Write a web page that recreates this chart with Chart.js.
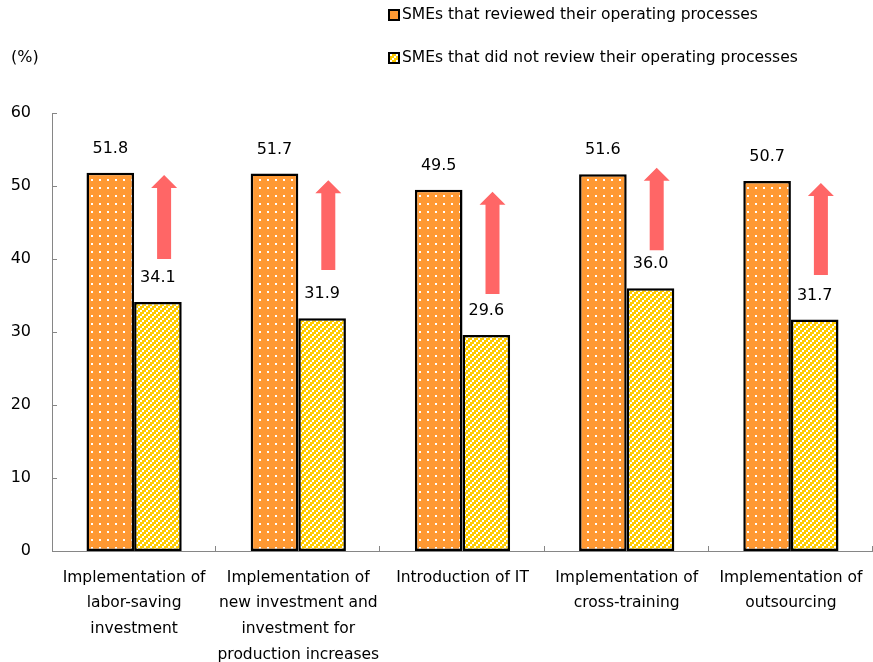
<!DOCTYPE html>
<html>
<head>
<meta charset="utf-8">
<script src="https://cdn.jsdelivr.net/npm/chart.js@4.4.1/dist/chart.umd.min.js"></script>
<style>
  html, body { margin: 0; padding: 0; background: #fff; }
  #wrap { width: 873px; height: 662px; position: relative; }
</style>
</head>
<body>
<div id="wrap"><canvas id="chart"></canvas></div>
<script>
const categories = [
  ['Implementation of', 'labor-saving', 'investment'],
  ['Implementation of', 'new investment and', 'investment for', 'production increases'],
  ['Introduction of IT'],
  ['Implementation of', 'cross-training'],
  ['Implementation of', 'outsourcing']
];
const reviewed = [51.8, 51.7, 49.5, 51.6, 50.7];
const notReviewed = [34.1, 31.9, 29.6, 36.0, 31.7];
const seriesNames = [
  'SMEs that reviewed their operating processes',
  'SMEs that did not review their operating processes'
];
// arrows between the two bars of each group (bottom / tip, in %)
const arrowFrom = [40.0, 38.5, 35.2, 41.2, 37.8];
const arrowTo = [51.5, 50.8, 49.2, 52.5, 50.4];
const yTicks = [0, 10, 20, 30, 40, 50, 60];

const FONT = '"DejaVu Sans", Verdana, sans-serif';
const ORANGE = '#FF9933';
const YELLOW = '#FFCC00';
const ARROW = '#FF6666';
const AXIS = '#868686';

function dotPattern() {
  const c = document.createElement('canvas');
  c.width = 8; c.height = 8;
  const g = c.getContext('2d');
  g.fillStyle = ORANGE;
  g.fillRect(0, 0, 8, 8);
  g.fillStyle = '#fff';
  g.fillRect(3, 3, 2, 2);
  return g.createPattern(c, 'repeat');
}

// stepped diagonal stripes, 2px blocks
function hatchPattern() {
  const c = document.createElement('canvas');
  c.width = 6; c.height = 6;
  const g = c.getContext('2d');
  for (let x = 0; x < 6; x++) {
    for (let y = 0; y < 6; y++) {
      const b = (Math.floor(x / 2) + Math.floor(y / 2)) % 3;
      g.fillStyle = b === 0 ? '#fff' : YELLOW;
      g.fillRect(x, y, 1, 1);
    }
  }
  return g.createPattern(c, 'repeat');
}

const dots = dotPattern();
const hatch = hatchPattern();

const extras = {
  id: 'extras',
  afterDatasetsDraw(chart) {
    const ctx = chart.ctx;
    const x = chart.scales.x;
    const y = chart.scales.y;
    const area = chart.chartArea;
    ctx.save();

    // arrows
    ctx.fillStyle = ARROW;
    arrowFrom.forEach((v, i) => {
      const cx = x.getPixelForValue(i) + 30;
      const yb = y.getPixelForValue(v);
      const yt = y.getPixelForValue(arrowTo[i]);
      const head = 13, hw = 13, sw = 7;
      ctx.beginPath();
      ctx.moveTo(cx - sw, yb);
      ctx.lineTo(cx - sw, yt + head);
      ctx.lineTo(cx - hw, yt + head);
      ctx.lineTo(cx, yt);
      ctx.lineTo(cx + hw, yt + head);
      ctx.lineTo(cx + sw, yt + head);
      ctx.lineTo(cx + sw, yb);
      ctx.closePath();
      ctx.fill();
    });

    // value labels
    ctx.fillStyle = '#000';
    ctx.font = '16px ' + FONT;
    ctx.textAlign = 'center';
    ctx.textBaseline = 'middle';
    chart.data.datasets.forEach((ds, di) => {
      chart.getDatasetMeta(di).data.forEach((bar, i) => {
        ctx.fillText(ds.data[i].toFixed(1), bar.x, bar.y - 24);
      });
    });

    // inward ticks
    ctx.strokeStyle = AXIS;
    ctx.lineWidth = 1;
    ctx.beginPath();
    yTicks.forEach(t => {
      const py = Math.round(y.getPixelForValue(t)) + 0.5;
      ctx.moveTo(area.left, py);
      ctx.lineTo(area.left + 5, py);
    });
    for (let i = 1; i <= categories.length; i++) {
      const px = Math.round(area.left + (area.right - area.left) * i / categories.length) - 0.5;
      ctx.moveTo(px, area.bottom);
      ctx.lineTo(px, area.bottom - 5);
    }
    ctx.stroke();

    // unit
    ctx.textAlign = 'left';
    ctx.font = '16px ' + FONT;
    ctx.fillText('(%)', 11, 58);

    // legend
    const rows = [15, 58];
    ctx.font = '15.5px ' + FONT;
    seriesNames.forEach((name, i) => {
      ctx.fillStyle = i === 0 ? ORANGE : hatch;
      ctx.fillRect(389, rows[i] - 5, 10, 10);
      ctx.strokeStyle = '#000';
      ctx.lineWidth = 2;
      ctx.strokeRect(389, rows[i] - 5, 10, 10);
      ctx.fillStyle = '#000';
      ctx.fillText(name, 402, rows[i]);
    });

    ctx.restore();
  }
};

new Chart(document.getElementById('chart'), {
  type: 'bar',
  data: {
    labels: categories,
    datasets: [
      {
        label: seriesNames[0],
        data: reviewed,
        backgroundColor: dots,
        borderColor: '#000',
        borderWidth: 2.5,
        borderSkipped: false
      },
      {
        label: seriesNames[1],
        data: notReviewed,
        backgroundColor: hatch,
        borderColor: '#000',
        borderWidth: 2.5,
        borderSkipped: false
      }
    ]
  },
  options: {
    responsive: true,
    maintainAspectRatio: false,
    animation: false,
    layout: { padding: { top: 113, right: 0, left: 0, bottom: 0 } },
    datasets: {
      bar: { categoryPercentage: 0.58, barPercentage: 1.0 }
    },
    plugins: {
      legend: { display: false },
      tooltip: { enabled: false }
    },
    scales: {
      x: {
        grid: { display: false },
        border: { color: AXIS, width: 1 },
        ticks: {
          color: '#000',
          font: { family: FONT, size: 15.5, lineHeight: 1.65 },
          maxRotation: 0,
          autoSkip: false,
          padding: 6
        },
        afterFit(scale) { scale.height = 111; }
      },
      y: {
        min: 0,
        max: 60,
        grid: { display: false },
        border: { color: AXIS, width: 1 },
        ticks: {
          stepSize: 10,
          color: '#000',
          font: { family: FONT, size: 16 },
          padding: 13
        },
        afterFit(scale) { scale.width = 52; }
      }
    }
  },
  plugins: [extras]
});
</script>
</body>
</html>
